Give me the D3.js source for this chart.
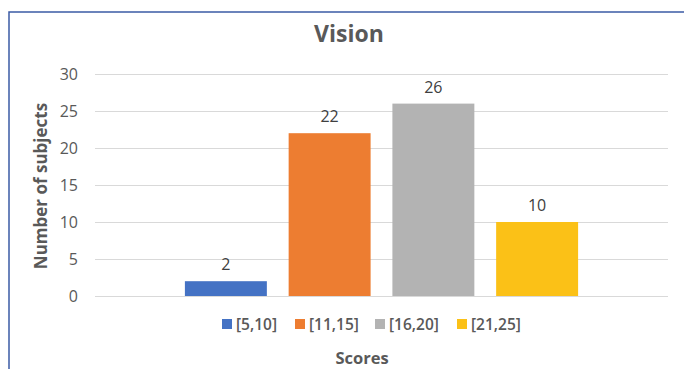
<!DOCTYPE html>
<meta charset="utf-8">
<head>
  <style>
    body { margin: 0; background: #fff; }
    text { font-family: "Open Sans", sans-serif; }
    .grid line { stroke: #d9d9d9; stroke-width: 1px; }
    .grid .domain { display: none; }
    .yaxis .domain, .yaxis line { display: none; }
    .yaxis text { fill: #595959; font-size: 16px; }
  </style>
</head>
<body>
  <script src="https://d3js.org/d3.v7.min.js"></script>
  <div id="chart"></div>
  <script>
    // data
    var categories = ["[5,10]", "[11,15]", "[16,20]", "[21,25]"];
    var counts = [2, 22, 26, 10];
    var colors = ["#4472c4", "#ed7d31", "#b3b3b3", "#fbc117"];
    var yTicks = [0, 5, 10, 15, 20, 25, 30];

    var width = 684, height = 369;
    var plotLeft = 95, plotRight = 668, plotTop = 74, plotBottom = 296;

    var svg = d3.select('#chart').append('svg')
      .attr('width', width)
      .attr('height', height);

    // frame (only top + left visible in the crop)
    svg.append('path')
      .attr('d', 'M9,' + height + 'V12H' + width)
      .attr('fill', 'none')
      .attr('stroke', '#3b5ba5')
      .attr('stroke-width', 1.5);

    var y = d3.scaleLinear().domain([0, 30]).range([plotBottom, plotTop]);

    // one category group over the whole plot, four series inside it
    var center = (plotLeft + plotRight) / 2, groupW = 415;
    var x = d3.scaleBand()
      .domain(categories)
      .range([center - groupW / 2, center + groupW / 2])
      .paddingInner(0.21)
      .paddingOuter(0.105);

    svg.append('g')
      .attr('class', 'grid')
      .attr('transform', 'translate(' + plotLeft + ',0)')
      .call(d3.axisLeft(y).tickValues(yTicks).tickSize(-(plotRight - plotLeft)).tickFormat(''));

    svg.append('g')
      .attr('class', 'yaxis')
      .attr('transform', 'translate(' + (plotLeft - 10) + ',0)')
      .call(d3.axisLeft(y).tickValues(yTicks).tickSize(0).tickPadding(7));

    svg.selectAll('rect.bar')
      .data(categories)
      .enter().append('rect')
      .attr('class', 'bar')
      .attr('x', d => x(d))
      .attr('width', x.bandwidth())
      .attr('y', (d, i) => y(counts[i]))
      .attr('height', (d, i) => y(0) - y(counts[i]))
      .attr('fill', (d, i) => colors[i]);

    svg.selectAll('text.lbl')
      .data(categories)
      .enter().append('text')
      .attr('class', 'lbl')
      .attr('x', d => x(d) + x.bandwidth() / 2)
      .attr('y', (d, i) => y(counts[i]) - 11)
      .attr('text-anchor', 'middle')
      .attr('fill', '#404040')
      .style('font-size', '16px')
      .text((d, i) => counts[i]);

    // title
    svg.append('text')
      .attr('x', 349).attr('y', 42)
      .attr('text-anchor', 'middle')
      .attr('fill', '#595959')
      .style('font-size', '23px').style('font-weight', 'bold')
      .text('Vision');

    // y title
    svg.append('text')
      .attr('transform', 'translate(47,' + ((plotTop + plotBottom) / 2 + 1) + ') rotate(-90)')
      .attr('text-anchor', 'middle')
      .attr('fill', '#595959')
      .style('font-size', '17px').style('font-weight', 'bold')
      .text('Number of subjects');

    // x title
    svg.append('text')
      .attr('x', 362).attr('y', 364)
      .attr('text-anchor', 'middle')
      .attr('fill', '#595959')
      .style('font-size', '16.5px').style('font-weight', 'bold')
      .text('Scores');

    // legend
    var legX = [222, 295, 375, 457];
    var leg = svg.selectAll('g.leg')
      .data(categories)
      .enter().append('g')
      .attr('class', 'leg')
      .attr('transform', (d, i) => 'translate(' + legX[i] + ',319)');
    leg.append('rect')
      .attr('width', 10).attr('height', 10)
      .attr('fill', (d, i) => colors[i]);
    leg.append('text')
      .attr('x', 14).attr('y', 10.5)
      .attr('fill', '#595959')
      .style('font-size', '15.5px').style('font-weight', '600')
      .text(d => d);
  </script>
</body>
